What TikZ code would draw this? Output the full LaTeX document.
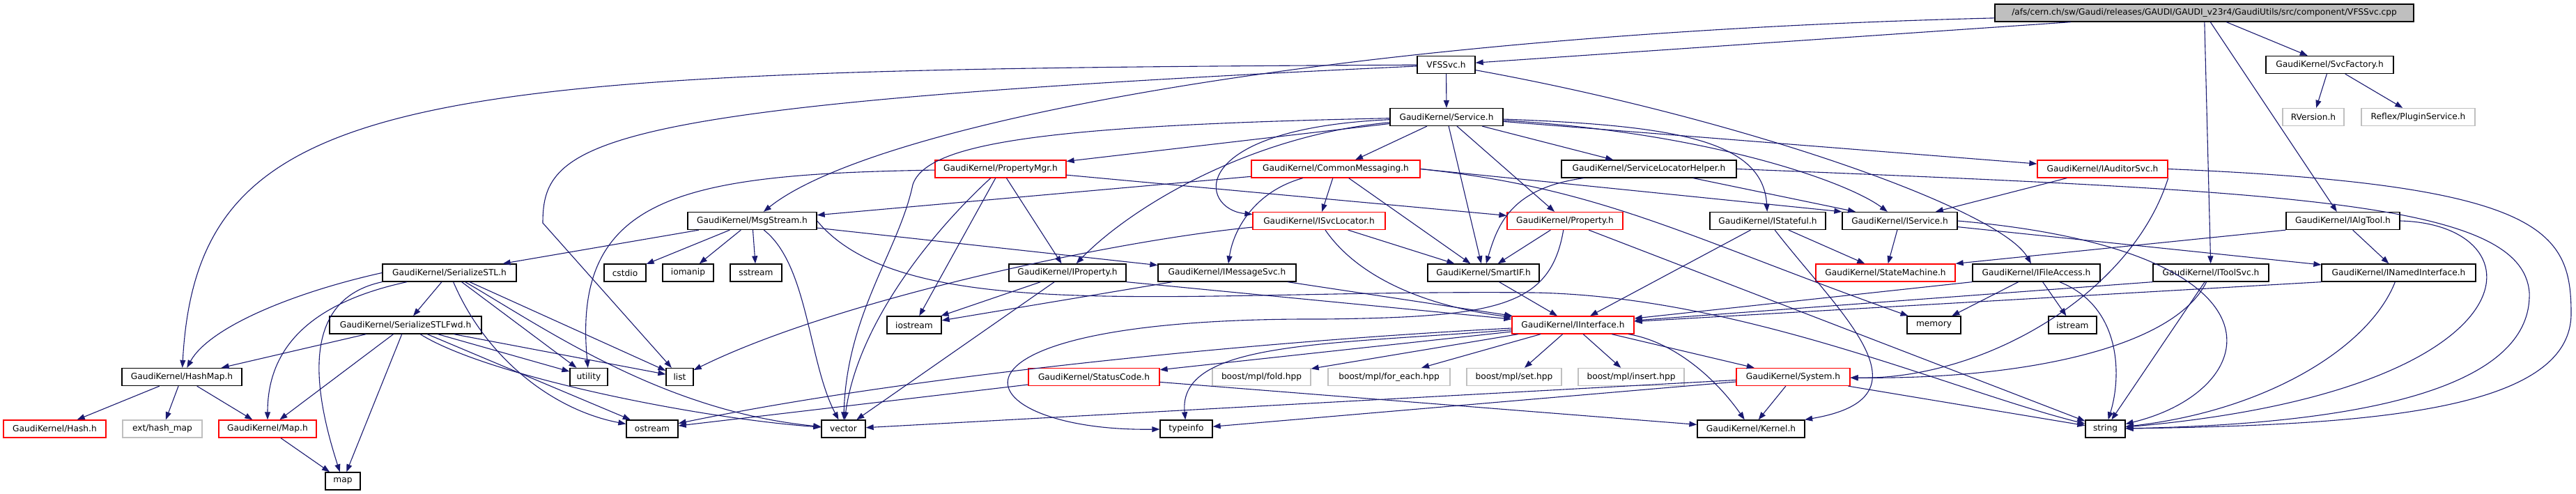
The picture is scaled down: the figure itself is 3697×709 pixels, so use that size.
\documentclass[tikz,border=0pt]{standalone}
\usepackage{fontspec}
\setmainfont{DejaVu Sans}
\usetikzlibrary{arrows.meta}
\definecolor{edgeblue}{HTML}{191970}
\definecolor{extgray}{HTML}{BFBFBF}
\definecolor{truncred}{HTML}{FF0000}
\def\drawinc{\draw[inc]}

\begin{document}
\begin{tikzpicture}[x=1pt,y=-1pt,
  hdr/.style={draw=black,fill=white,line width=1.3pt,inner sep=0pt,
    minimum height=25pt,font=\fontsize{12.2}{14}\selectfont},
  trunc/.style={hdr,draw=truncred},
  ext/.style={hdr,draw=extgray},
  rootfile/.style={hdr,fill=extgray},
  inc/.style={color=edgeblue,line width=1.1pt,-{Triangle[length=11pt,width=8pt]}}]
\useasboundingbox (0,0) rectangle (3697,709);
% row 1-3
\node[rootfile,minimum width=601pt] (root) at (3163.5,18.5) {/afs/cern.ch/sw/Gaudi/releases/GAUDI/GAUDI\_v23r4/GaudiUtils/src/component/VFSSvc.cpp};
\node[hdr,minimum width=83pt] (vfs) at (2075.5,93) {VFSSvc.h};
\node[hdr,minimum width=183pt] (svcfac) at (3343.5,93) {GaudiKernel/SvcFactory.h};
\node[hdr,minimum width=162pt] (service) at (2076,168) {GaudiKernel/Service.h};
\node[ext,minimum width=88pt] (rversion) at (3320,168) {RVersion.h};
\node[ext,minimum width=163pt] (plugin) at (3470.5,168) {Reflex/PluginService.h};
% row 4
\node[trunc,minimum width=188pt] (propmgr) at (1436,242.5) {GaudiKernel/PropertyMgr.h};
\node[trunc,minimum width=242pt] (commsg) at (1917,242.5) {GaudiKernel/CommonMessaging.h};
\node[hdr,minimum width=251pt] (slh) at (2366.5,242.5) {GaudiKernel/ServiceLocatorHelper.h};
\node[trunc,minimum width=187pt] (auditor) at (3017.5,242.5) {GaudiKernel/IAuditorSvc.h};
% row 5
\node[hdr,minimum width=185pt] (msgstr) at (1079.5,317) {GaudiKernel/MsgStream.h};
\node[trunc,minimum width=190pt] (svcloc) at (1893,317) {GaudiKernel/ISvcLocator.h};
\node[trunc,minimum width=166pt] (prop) at (2246,317) {GaudiKernel/Property.h};
\node[hdr,minimum width=166pt] (stateful) at (2537,317) {GaudiKernel/IStateful.h};
\node[hdr,minimum width=165pt] (isvc) at (2726.5,317) {GaudiKernel/IService.h};
\node[hdr,minimum width=163pt] (algtool) at (3362.5,317) {GaudiKernel/IAlgTool.h};
% row 6
\node[hdr,minimum width=192pt] (serstl) at (645,391.5) {GaudiKernel/SerializeSTL.h};
\node[hdr,minimum width=60pt] (cstdio) at (897,391.5) {cstdio};
\node[hdr,minimum width=73pt] (iomanip) at (987.5,391.5) {iomanip};
\node[hdr,minimum width=74pt] (sstream) at (1085,391.5) {sstream};
\node[hdr,minimum width=168pt] (iprop) at (1532,391.5) {GaudiKernel/IProperty.h};
\node[hdr,minimum width=198pt] (imsg) at (1761,391.5) {GaudiKernel/IMessageSvc.h};
\node[hdr,minimum width=160pt] (smartif) at (2129,391.5) {GaudiKernel/SmartIF.h};
\node[trunc,minimum width=200pt] (statem) at (2706,391.5) {GaudiKernel/StateMachine.h};
\node[hdr,minimum width=183pt] (fileacc) at (2922.5,391.5) {GaudiKernel/IFileAccess.h};
\node[hdr,minimum width=166pt] (toolsvc) at (3173,391.5) {GaudiKernel/IToolSvc.h};
\node[hdr,minimum width=221pt] (named) at (3442.5,391.5) {GaudiKernel/INamedInterface.h};
% row 7
\node[hdr,minimum width=218pt] (serfwd) at (582,466.5) {GaudiKernel/SerializeSTLFwd.h};
\node[hdr,minimum width=78pt] (iostream) at (1312,466.5) {iostream};
\node[trunc,minimum width=175pt] (iface) at (2257.5,466.5) {GaudiKernel/IInterface.h};
\node[hdr,minimum width=77pt] (memory) at (2775.5,466.5) {memory};
\node[hdr,minimum width=69pt] (istream) at (2974.5,466.5) {istream};
% row 8
\node[hdr,minimum width=172pt] (hashmap) at (261,541) {GaudiKernel/HashMap.h};
\node[hdr,minimum width=54pt] (utility) at (845,541) {utility};
\node[hdr,minimum width=39pt] (list) at (975.5,541) {list};
\node[trunc,minimum width=188pt] (status) at (1570,541) {GaudiKernel/StatusCode.h};
\node[ext,minimum width=141pt] (fold) at (1810.5,541) {boost/mpl/fold.hpp};
\node[ext,minimum width=175pt] (foreach) at (1993.5,541) {boost/mpl/for\_each.hpp};
\node[ext,minimum width=136pt] (mplset) at (2173,541) {boost/mpl/set.hpp};
\node[ext,minimum width=152pt] (insert) at (2341,541) {boost/mpl/insert.hpp};
\node[trunc,minimum width=163pt] (system) at (2573.5,541) {GaudiKernel/System.h};
% row 9-10
\node[trunc,minimum width=147pt] (hash) at (78.5,615.5) {GaudiKernel/Hash.h};
\node[ext,minimum width=114pt] (hashext) at (233,615.5) {ext/hash\_map};
\node[trunc,minimum width=140pt] (maph) at (384,615.5) {GaudiKernel/Map.h};
\node[hdr,minimum width=74pt] (ostream) at (936,615.5) {ostream};
\node[hdr,minimum width=63pt] (vector) at (1210.5,615.5) {vector};
\node[hdr,minimum width=75pt] (typeinfo) at (1702.5,615.5) {typeinfo};
\node[hdr,minimum width=154pt] (kernel) at (2513,615.5) {GaudiKernel/Kernel.h};
\node[hdr,minimum width=57pt] (string) at (3021.5,615.5) {string};
\node[hdr,minimum width=50pt] (map) at (492,690.5) {map};
\coordinate (listbend) at (779,320);

% VFSSvc.cpp
\drawinc (root) -- (vfs);
\drawinc (root) -- (svcfac);
\drawinc (root) .. controls (1900,50) and (1250,180) .. (msgstr);
\drawinc (root) -- (algtool);
\drawinc (root) -- (toolsvc);
\drawinc (svcfac) -- (rversion);
\drawinc (svcfac) -- (plugin);
% VFSSvc.h
\drawinc (vfs) -- (service);
\drawinc (vfs) .. controls (2500,170) and (2870,300) .. (fileacc);
\drawinc (vfs) .. controls (600,100) and (284,120) .. (hashmap);
\drawinc (vfs) .. controls (850,150) and (779,200) .. (listbend) -- (list);
% Service.h
\drawinc (service) -- (commsg);
\drawinc (service) -- (slh);
\drawinc (service) -- (prop);
\drawinc (service) -- (smartif);
\drawinc (service) -- (propmgr);
\drawinc (service) -- (auditor);
\drawinc (service) .. controls (2450,190) and (2650,260) .. (isvc);
\drawinc (service) .. controls (2400,180) and (2530,200) .. (stateful);
\drawinc (service) .. controls (1700,185) and (1720,300) .. (svcloc);
\drawinc (service) .. controls (1790,195) and (1620,300) .. (iprop);
\drawinc (service) .. controls (1500,180) and (1330,205) .. (1310,265) .. controls (1290,360) and (1215,450) .. (vector);
% PropertyMgr.h
\drawinc (propmgr) -- (iprop);
\drawinc (propmgr) -- (prop);
\drawinc (propmgr) -- (iostream);
\drawinc (propmgr) .. controls (1330,340) and (1230,470) .. (vector);
\drawinc (propmgr) .. controls (980,250) and (820,280) .. (utility);
% CommonMessaging.h
\drawinc (commsg) -- (msgstr);
\drawinc (commsg) .. controls (1800,275) and (1770,330) .. (imsg);
\drawinc (commsg) -- (svcloc);
\drawinc (commsg) -- (smartif);
\drawinc (commsg.east) -- (isvc.north west);
\drawinc (commsg.east) .. controls (2300,270) and (2420,340) .. (memory);
% ServiceLocatorHelper.h
\drawinc (slh) -- (isvc);
\drawinc (slh) .. controls (2170,270) and (2150,320) .. (smartif);
\drawinc (slh.east) .. controls (3300,275) and (3620,290) .. (3630,420) .. controls (3635,580) and (3300,610) .. (string);
% IAuditorSvc.h
\drawinc (auditor) -- (isvc);
\drawinc (auditor.east) .. controls (3650,265) and (3690,330) .. (3690,450) .. controls (3690,590) and (3400,610) .. (string);
\drawinc (auditor.south east) .. controls (3060,420) and (2850,545) .. (system);
% MsgStream.h
\drawinc (msgstr) -- (serstl);
\drawinc (msgstr) -- (cstdio);
\drawinc (msgstr) -- (iomanip);
\drawinc (msgstr) -- (sstream);
\drawinc (msgstr) .. controls (1160,380) and (1160,520) .. (vector);
\drawinc (msgstr) -- (imsg);
\drawinc (msgstr.east) .. controls (1300,470) and (1700,415) .. (2200,420) .. controls (2500,425) and (2800,560) .. (string);
% ISvcLocator.h
\drawinc (svcloc) .. controls (1950,400) and (2050,440) .. (iface);
\drawinc (svcloc) -- (smartif);
\drawinc (svcloc) .. controls (1600,345) and (1200,430) .. (list);
% Property.h
\drawinc (prop) -- (smartif);
\drawinc (prop) -- (string);
\drawinc (prop) .. controls (2225,440) and (2150,455) .. (1900,458) .. controls (1300,455) and (1380,620) .. (typeinfo);
% IProperty.h, IMessageSvc.h, SmartIF.h
\drawinc (iprop.south east) -- (iface);
\drawinc (iprop) -- (iostream);
\drawinc (iprop) -- (vector);
\drawinc (imsg) -- (iface);
\drawinc (imsg) -- (iostream);
\drawinc (smartif) -- (iface);
% IStateful.h, IService.h
\drawinc (stateful) -- (statem);
\drawinc (stateful) -- (iface);
\drawinc (stateful) .. controls (2640,450) and (2780,570) .. (kernel);
\drawinc (isvc) -- (statem);
\drawinc (isvc) -- (named);
\drawinc (isvc.east) .. controls (3300,360) and (3250,560) .. (string);
% IFileAccess.h
\drawinc (fileacc) -- (memory);
\drawinc (fileacc) -- (istream);
\drawinc (fileacc) .. controls (3045,440) and (3045,540) .. (string);
\drawinc (fileacc.south west) -- (iface);
% IAlgTool.h, IToolSvc.h, INamedInterface.h
\drawinc (algtool) -- (named);
\drawinc (algtool.south west) -- (statem.north east);
\drawinc (algtool.east) .. controls (3650,322) and (3650,560) .. (string);
\drawinc (toolsvc.south west) -- (iface);
\drawinc (toolsvc) .. controls (3120,500) and (2900,545) .. (system);
\drawinc (toolsvc) -- (string);
\drawinc (named.south west) -- (iface);
\drawinc (named) .. controls (3400,500) and (3250,590) .. (string);
% IInterface.h
\drawinc (iface) -- (status);
\drawinc (iface) -- (fold);
\drawinc (iface) -- (foreach);
\drawinc (iface) -- (mplset);
\drawinc (iface) -- (insert);
\drawinc (iface) -- (system);
\drawinc (iface) .. controls (2400,490) and (2460,540) .. (kernel);
\drawinc (iface) .. controls (1800,490) and (1300,540) .. (ostream);
\drawinc (iface) .. controls (1900,495) and (1690,490) .. (typeinfo);
% System.h, StatusCode.h
\drawinc (system) -- (kernel);
\drawinc (system) -- (string);
\drawinc (system) -- (vector);
\drawinc (system) -- (typeinfo);
\drawinc (status) -- (ostream);
\drawinc (status) -- (kernel);
% SerializeSTL.h
\drawinc (serstl) -- (serfwd);
\drawinc (serstl.west) .. controls (420,420) and (300,470) .. (hashmap);
\drawinc (serstl) .. controls (420,440) and (384,520) .. (maph);
\drawinc (serstl.south west) .. controls (430,430) and (450,560) .. (map);
\drawinc (serstl) -- (utility);
\drawinc (serstl) -- (list);
\drawinc (serstl) .. controls (700,520) and (800,590) .. (ostream);
\drawinc (serstl) .. controls (780,470) and (950,590) .. (vector);
% SerializeSTLFwd.h
\drawinc (serfwd) -- (hashmap);
\drawinc (serfwd) -- (maph);
\drawinc (serfwd) -- (map);
\drawinc (serfwd) -- (utility);
\drawinc (serfwd) -- (list);
\drawinc (serfwd) -- (ostream);
\drawinc (serfwd) .. controls (700,540) and (1000,600) .. (vector);
% HashMap.h
\drawinc (hashmap) -- (hash);
\drawinc (hashmap) -- (hashext);
\drawinc (hashmap) -- (maph);
\drawinc (maph) -- (map);
\end{tikzpicture}
\end{document}
